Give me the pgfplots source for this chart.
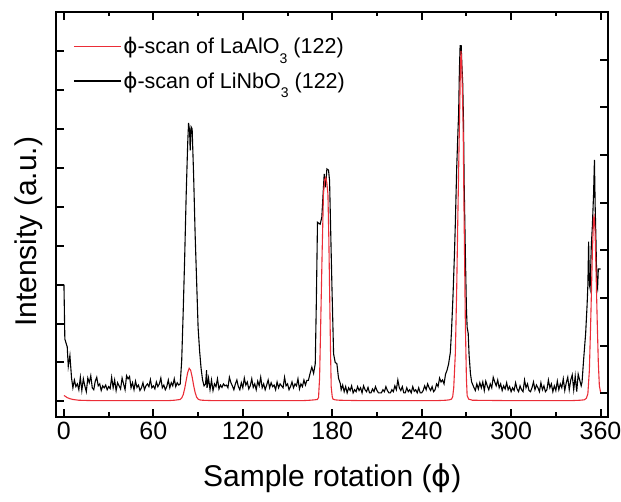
\documentclass[border=0pt]{standalone}
\usepackage{fontspec}
\setmainfont{Liberation Sans}
\newfontfamily\phifont{DejaVu Sans}
\usepackage{pgfplots}
\pgfplotsset{compat=1.18}
\definecolor{scanred}{RGB}{235,45,55}
\newcommand{\fphi}{{\phifont ϕ}}
\newcommand{\subthree}{\raisebox{-9.5pt}{\fontsize{14}{14}\selectfont 3}}

\begin{document}
\begin{tikzpicture}
\useasboundingbox (-56.5pt,-85pt) rectangle (564.5pt,417pt);
\begin{axis}[
  scale only axis, width=551.5pt, height=405pt,
  xmin=-5, xmax=365, ymin=-0.4, ymax=10,
  axis line style={line width=2pt},
  xtick={0,60,...,360},
  minor xtick={30,90,...,330},
  ytick={0,1,...,9},
  yticklabels={},
  xtick pos=both, ytick pos=left,
  tick align=inside,
  major tick length=8pt,
  minor tick length=4.5pt,
  tick style={line width=2pt, black},
  /pgf/number format/assume math mode=true,
  xticklabel style={font=\fontsize{25}{25}\selectfont, yshift=-2pt},
  xlabel={Sample rotation (\fphi)},
  ylabel={Intensity (a.u.)},
  label style={font=\fontsize{30}{30}\selectfont},
  xlabel style={at={(axis description cs:0.5,-0.1728)}, anchor=base},
  ylabel style={at={(axis description cs:-0.0354,0.457)}, anchor=base},
  legend style={at={(axis description cs:0.03,0.943)}, anchor=north west,
    draw=none, fill=none, font=\fontsize{21.5}{21.5}\selectfont,
    row sep=13pt, inner sep=0pt, nodes={inner sep=2pt}},
  legend cell align=left,
  legend image code/.code={\draw[#1] (0pt,0pt) -- (47pt,0pt);},
]
\addlegendimage{scanred, line width=1.1pt}
\addlegendentry{\fphi-scan of LaAlO\subthree{} (122)}
\addlegendimage{black, line width=1.1pt}
\addlegendentry{\fphi-scan of LiNbO\subthree{} (122)}

% LiNbO3 (122) phi-scan
\addplot[black, line width=1.1pt, forget plot] coordinates {
(0,3.00) (0.6,1.60) (2.2,1.40) (2.9,0.90) (4.0,1.18) (5.1,0.60)
(6,0.35) (7,0.55) (8,0.38) (9,0.45) (10,0.30) (11,0.62) (12,0.28) (13,0.58) (14,0.40) (15,0.25) (16,0.60) (17,0.48) (18,0.66) (19,0.35) (20,0.30) (21,0.52) (22,0.62) (23,0.40) (24,0.45) (25,0.28) (26,0.40) (27,0.35) (28,0.42) (29,0.30) (30,0.38) (31,0.33) (32,0.62) (33,0.35) (34,0.55) (35,0.28) (36,0.48) (37,0.40) (38,0.32) (39,0.60) (40,0.45) (41,0.30) (42,0.66) (43,0.58) (44,0.64) (45,0.35) (46,0.48) (47,0.30) (48,0.52) (49,0.36) (50,0.42) (51,0.28) (52,0.35) (53,0.48) (54,0.30) (55,0.40) (56,0.45) (57,0.38) (58,0.56) (59,0.35) (60,0.40) (61,0.32) (62,0.50) (63,0.38) (64,0.45) (65,0.60) (66,0.35) (67,0.42) (68,0.30) (69,0.38) (70,0.55) (71,0.35) (72,0.48) (73,0.40) (74,0.58) (75,0.38) (76,0.48) (77,0.42)
(78,0.45) (79,1.05) (80,2.30) (81,3.70) (82,5.30) (83,6.60) (83.6,7.15) (84.3,6.95) (84.7,6.45) (85.3,7.05) (86,7.00) (87,5.80) (88,4.30) (89,3.10) (90,1.90) (91,1.30) (92,0.85) (93,0.55) (94,0.40) (95,0.45) (95.7,0.80)
(96,0.35) (97,0.60) (98,0.30) (99,0.55) (100,0.28) (101,0.45) (102,0.38) (103,0.58) (104,0.32) (105,0.42) (106,0.36) (107,0.45) (108,0.40) (109,0.42) (110,0.35) (111,0.62) (112,0.48) (113,0.40) (114,0.30) (115,0.45) (116,0.55) (117,0.38) (118,0.30) (119,0.48) (120,0.35) (121,0.60) (122,0.42) (123,0.50) (124,0.32) (125,0.40) (126,0.58) (127,0.36) (128,0.45) (129,0.30) (130,0.52) (131,0.40) (132,0.62) (133,0.35) (134,0.45) (135,0.30) (136,0.42) (137,0.55) (138,0.35) (139,0.48) (140,0.38) (141,0.42) (142,0.30) (143,0.50) (144,0.35) (145,0.45) (146,0.40) (147,0.35) (148,0.62) (149,0.40) (150,0.45) (151,0.30) (152,0.38) (153,0.50) (154,0.35) (155,0.45) (156,0.40) (157,0.58) (158,0.32) (159,0.45) (160,0.38) (161,0.55) (162,0.42) (163,0.54)
(164,0.54) (165,0.70) (166.3,0.88) (167.5,0.72) (168.6,0.97) (169.3,2.50) (170.1,4.60) (171.9,4.55) (173,4.73) (174.6,5.84) (175.5,5.50) (176.4,5.97) (177.5,5.94) (178.2,5.67) (179,4.30) (179.8,2.93) (180.9,1.22) (182,1.00) (183.1,0.97) (184.2,0.60) (185.4,0.46)
(186,0.30) (187,0.42) (188,0.25) (189,0.38) (190,0.22) (191,0.35) (192,0.28) (193,0.40) (194,0.22) (195,0.30) (196,0.25) (197,0.38) (198,0.28) (199,0.35) (200,0.22) (201,0.40) (202,0.30) (203,0.25) (204,0.36) (205,0.22) (206,0.22) (207,0.32) (208,0.25) (209,0.38) (210,0.28) (211,0.22) (212,0.22) (213,0.22) (214,0.30) (215,0.25) (216,0.38) (217,0.28) (218,0.22) (219,0.22) (220,0.30) (221,0.25) (222,0.40) (223,0.30) (224,0.55) (225,0.35) (226,0.28) (227,0.38) (228,0.22) (229,0.22) (230,0.35) (231,0.25) (232,0.30) (233,0.22) (234,0.38) (235,0.26) (236,0.30) (237,0.22) (238,0.35) (239,0.22) (240,0.22) (241,0.28) (242,0.40) (243,0.30) (244,0.45) (245,0.35) (246,0.28) (247,0.38) (248,0.25) (249,0.30) (250,0.45) (251,0.38) (252,0.60) (253,0.50) (254,0.55)
(255,0.45) (256,0.70) (257,0.80) (258,0.95) (259.2,1.25) (260,1.80) (261,2.70) (262,3.80) (262.6,4.60) (263.5,6.00) (264.3,6.90) (264.8,7.40) (265.3,8.50) (265.8,9.15) (266.1,8.90) (266.5,9.15) (266.9,8.70) (267.5,8.20) (268,7.30) (268.5,5.60) (269.3,3.80) (270,2.40) (270.5,1.90) (271.2,1.75) (271.8,1.20) (272.7,0.72) (273.5,0.50) (274.9,0.37)
(276,0.28) (277,0.45) (278,0.32) (279,0.48) (280,0.35) (281,0.50) (282,0.28) (283,0.52) (284,0.40) (285,0.30) (286,0.45) (287,0.35) (288,0.62) (289,0.50) (290,0.40) (291,0.55) (292,0.35) (293,0.45) (294,0.28) (295,0.40) (296,0.32) (297,0.48) (298,0.30) (299,0.38) (300,0.25) (301,0.35) (302,0.28) (303,0.48) (304,0.32) (305,0.25) (306,0.40) (307,0.30) (308,0.25) (309,0.55) (310,0.35) (311,0.45) (312,0.28) (313,0.25) (314,0.35) (315,0.50) (316,0.30) (317,0.42) (318,0.35) (319,0.25) (320,0.48) (321,0.30) (322,0.40) (323,0.25) (324,0.30) (325,0.55) (326,0.35) (327,0.45) (328,0.25) (329,0.40) (330,0.28) (331,0.52) (332,0.30) (333,0.45) (334,0.35) (335,0.58) (336,0.28) (337,0.48) (338,0.62) (339,0.30) (340,0.55) (341,0.68) (342,0.30) (343,0.65) (344,0.25) (345,0.70)
(346,0.55) (347,0.40) (347.6,0.50) (348.5,1.00) (349.5,1.50) (350,1.74) (351,2.50) (351.5,3.00) (352,4.10) (352.5,3.00) (353,2.90) (353.8,4.00) (354.5,4.50) (355.3,5.30) (355.9,6.20) (356.4,5.00) (357,4.00) (357.5,3.00) (358,2.90) (358.5,3.40) (360,3.40)
};

% LaAlO3 (122) phi-scan
\addplot[scanred, line width=1.1pt, forget plot] coordinates {
(0,0.15) (1,0.13) (2,0.10) (4,0.07) (6,0.05) (10,0.03) (20,0.02) (40,0.02) (60,0.02) (70,0.02) (74,0.03) (76,0.04)
(78,0.05) (79,0.09) (80,0.17) (81,0.33) (82,0.54) (83,0.74) (84,0.85) (85,0.80) (86,0.63) (87,0.41) (88,0.23) (89,0.11) (90,0.06) (91,0.04) (93,0.03)
(100,0.02) (130,0.02) (160,0.02) (165,0.03) (168,0.04) (170,0.05) (170.8,0.10) (171.5,0.60) (172.3,2.08) (173.2,3.80) (174.1,5.33) (175,5.70) (175.7,5.75) (176.4,5.60) (177.1,5.33) (177.7,4.20) (178.2,2.93) (178.8,1.40) (179.3,0.37) (180,0.12) (180.5,0.06) (182,0.04) (185,0.03)
(200,0.02) (230,0.02) (250,0.02) (256,0.03) (258.5,0.04) (260,0.06) (260.8,0.12) (261.5,0.35) (262.6,1.25) (263.5,2.90) (264.2,4.60) (265,6.40) (265.5,7.50) (266,8.60) (266.4,9.00) (266.8,8.70) (267.3,8.00) (267.8,7.10) (268.5,4.60) (269.3,2.00) (270,0.60) (270.5,0.15) (271.5,0.06) (274,0.03)
(300,0.02) (340,0.02) (346,0.03) (349,0.04) (350.5,0.08) (351.5,0.20) (352.5,0.80) (353.5,2.20) (354.5,3.80) (355.3,4.70) (355.7,4.75) (356.3,4.40) (357,3.30) (357.8,2.00) (358.5,1.00) (359.2,0.40) (360,0.24)
};
\end{axis}

% right-hand intensity scale
\begin{axis}[
  scale only axis, width=551.5pt, height=405pt,
  xmin=-5, xmax=365, ymin=-0.5, ymax=8,
  axis y line*=right, axis x line=none,
  ytick={0,1,...,7}, yticklabels={},
  tick align=inside,
  major tick length=8pt,
  tick style={line width=2pt, black},
  axis line style={line width=2pt},
]
\addplot[draw=none, forget plot] coordinates {(0,0) (360,0)};
\end{axis}
\end{tikzpicture}
\end{document}
